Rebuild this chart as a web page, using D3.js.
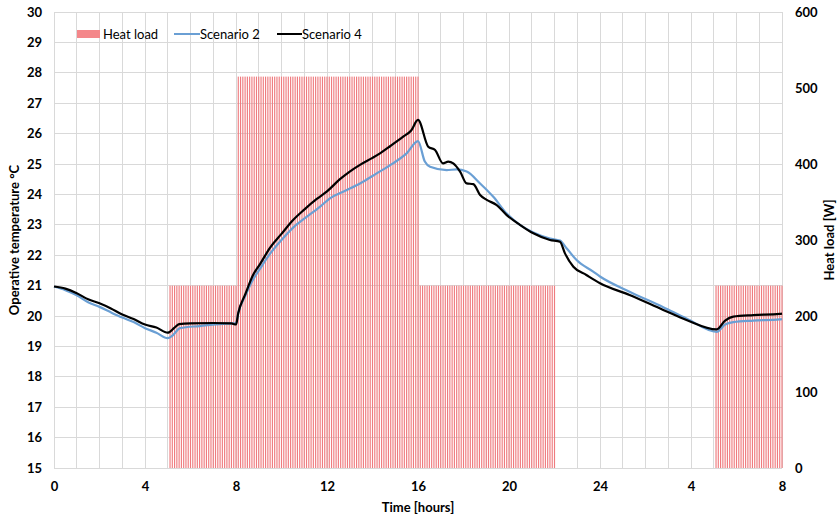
<!DOCTYPE html>
<html lang="en">
<head>
    <meta charset="UTF-8">
    <title>Operative temperature and heat load</title>
    <style>
        body { margin: 0; background: #fff; }
        text { font-family: Lato, "Open Sans", sans-serif; fill: #000; }
    </style>
</head>
<body>

<script src="https://cdn.jsdelivr.net/npm/d3@7/dist/d3.min.js"></script>
<script>

// heat load schedule, one bar every 0.1 h: [first bar, last bar, watts]
const heatBlocks = [
    [5.1, 8.0, 240],
    [8.1, 16.0, 515],
    [16.1, 22.0, 240],
    [29.1, 32.0, 240]
];
const heatStep = 0.1;

// scenario 2 (blue)
const timeS2 = [0, 0.5, 1, 1.5, 2, 2.5, 3, 3.5, 4, 4.5, 5, 5.2, 5.54, 6.4, 7.9, 8,
    8.1, 8.4, 8.75, 9.05, 9.5, 10, 10.5, 11, 11.7, 12.13, 12.8, 13.45, 14.2, 14.9, 15.5, 16,
    16.3, 16.53, 17.26, 17.7, 18.14, 18.73, 19.31, 19.9, 20.48, 21.07, 21.8, 22.24, 22.53, 22.97, 23.7,
    24, 25.3, 26.78, 27.8, 29.13, 29.5, 29.86, 30.74, 31.9, 32];
const tempS2 = [20.97, 20.85, 20.68, 20.45, 20.3, 20.12, 19.95, 19.8, 19.6, 19.45, 19.27, 19.35, 19.6, 19.67, 19.76, 19.75,
    20.1, 20.65, 21.2, 21.55, 22.05, 22.5, 22.9, 23.2, 23.6, 23.87, 24.12, 24.36, 24.7, 25.02, 25.35, 25.75,
    25.08, 24.91, 24.8, 24.82, 24.75, 24.36, 23.92, 23.37, 23.0, 22.75, 22.55, 22.48, 22.23, 21.84, 21.46,
    21.3, 20.8, 20.29, 19.92, 19.48, 19.72, 19.8, 19.85, 19.89, 19.9];

// scenario 4 (black)
const timeS4 = [0, 0.5, 1, 1.5, 2, 2.5, 3, 3.5, 4, 4.5, 5, 5.3, 5.5, 6, 7, 7.8, 8,
    8.1, 8.4, 8.75, 9.05, 9.5, 10, 10.5, 11, 11.55, 12, 12.57, 13, 13.45, 14, 14.33, 14.8, 15.35, 15.7, 16,
    16.45, 16.75, 17.1, 17.33, 17.55, 17.85, 18.14, 18.43, 18.73, 19.02, 19.46, 19.9, 20.48, 21.07, 21.8, 22.24,
    22.46, 22.83, 23.4, 24, 25.3, 26.78, 27.8, 29.13, 29.5, 29.86, 30.74, 31.9, 32];
const tempS4 = [20.97, 20.9, 20.75, 20.55, 20.42, 20.25, 20.05, 19.9, 19.72, 19.62, 19.45, 19.62, 19.73, 19.76, 19.77, 19.76, 19.72,
    20.1, 20.7, 21.35, 21.7, 22.25, 22.7, 23.15, 23.5, 23.85, 24.1, 24.5, 24.75, 24.97, 25.2, 25.35, 25.6, 25.9, 26.1, 26.45,
    25.57, 25.46, 25.02, 25.08, 25.02, 24.75, 24.36, 24.34, 23.98, 23.82, 23.65, 23.32, 23.0, 22.72, 22.5, 22.44,
    22.06, 21.62, 21.35, 21.08, 20.69, 20.2, 19.87, 19.56, 19.85, 19.98, 20.03, 20.07, 20.08];

const xTicks = [0, 4, 8, 12, 16, 20, 24, 28, 32];
const tempTicks = d3.range(15, 31, 1);
const loadTicks = [0, 100, 200, 300, 400, 500, 600];

const width = 839, height = 520;
const margin = {top: 12, right: 57, bottom: 52, left: 54};
const w = width - margin.left - margin.right;
const h = height - margin.top - margin.bottom;

let svg = d3.select('body')
    .append('svg')
    .attr('width', width)
    .attr('height', height);

let g = svg.append('g')
    .attr('transform', `translate(${margin.left},${margin.top})`);

let x = d3.scaleLinear().domain([0, 32]).range([0, w]);
let yT = d3.scaleLinear().domain([15, 30]).range([h, 0]);
let yL = d3.scaleLinear().domain([0, 600]).range([h, 0]);

// grid
g.append('g')
    .selectAll('line')
    .data(d3.range(0, 33, 1))
    .enter()
    .append('line')
    .attr('x1', d => x(d)).attr('x2', d => x(d))
    .attr('y1', 0).attr('y2', h)
    .attr('stroke', '#d9d9d9')
    .attr('shape-rendering', 'crispEdges');

g.append('g')
    .selectAll('line')
    .data(tempTicks)
    .enter()
    .append('line')
    .attr('x1', 0).attr('x2', w)
    .attr('y1', d => yT(d)).attr('y2', d => yT(d))
    .attr('stroke', '#d9d9d9')
    .attr('shape-rendering', 'crispEdges');

// heat load bars
let bars = [];
heatBlocks.forEach(b => {
    let n = Math.round((b[1] - b[0]) / heatStep);
    for (let i = 0; i <= n; ++i) {
        bars.push({t: b[0] + i * heatStep, v: b[2]});
    }
});
const barW = (x(heatStep) - x(0)) * 0.5;

g.append('g')
    .selectAll('rect')
    .data(bars)
    .enter()
    .append('rect')
    .attr('x', d => x(d.t) - barW / 2)
    .attr('y', d => yL(d.v))
    .attr('width', barW)
    .attr('height', d => h - yL(d.v))
    .attr('fill', '#ef7b7f');

// temperature lines
let line = d3.line()
    .x(d => x(d[0]))
    .y(d => yT(d[1]))
    .curve(d3.curveMonotoneX);

g.append('path')
    .datum(timeS2.map((t, i) => [t, tempS2[i]]))
    .attr('d', line)
    .attr('fill', 'none')
    .attr('stroke', '#6a9fd4')
    .attr('stroke-width', 2.2);

g.append('path')
    .datum(timeS4.map((t, i) => [t, tempS4[i]]))
    .attr('d', line)
    .attr('fill', 'none')
    .attr('stroke', '#000')
    .attr('stroke-width', 2.2);

// axes
let xAxis = g.append('g')
    .attr('transform', `translate(0,${h})`)
    .call(d3.axisBottom(x).tickValues(xTicks).tickSize(0).tickPadding(14)
        .tickFormat(d => d % 24 === 0 && d > 0 ? (d === 24 ? '24' : '8') : String(d > 24 ? d - 24 : d)));
xAxis.select('.domain').remove();

let yAxisL = g.append('g')
    .call(d3.axisLeft(yT).tickValues(tempTicks).tickSize(0).tickPadding(12).tickFormat(d3.format('d')));
yAxisL.select('.domain').remove();

let yAxisR = g.append('g')
    .attr('transform', `translate(${w},0)`)
    .call(d3.axisRight(yL).tickValues(loadTicks).tickSize(0).tickPadding(13));
yAxisR.select('.domain').remove();

svg.selectAll('.tick text')
    .style('font-size', '13px')
    .style('font-weight', 'bold')
    .style('font-family', 'Lato, sans-serif')
    .attr('fill', '#000');

// axis titles
svg.append('text')
    .attr('x', margin.left + w / 2)
    .attr('y', 512)
    .attr('text-anchor', 'middle')
    .style('font-size', '13px')
    .style('font-weight', 'bold')
    .text('Time [hours]');

svg.append('text')
    .attr('transform', `translate(19,${margin.top + h / 2}) rotate(-90)`)
    .attr('text-anchor', 'middle')
    .style('font-size', '13px')
    .style('font-weight', 'bold')
    .text('Operative temperature °C');

svg.append('text')
    .attr('transform', `translate(834,${margin.top + h / 2}) rotate(-90)`)
    .attr('text-anchor', 'middle')
    .style('font-size', '13px')
    .style('font-weight', 'bold')
    .text('Heat load [W]');

// legend
let legend = svg.append('g').attr('transform', 'translate(77,34)');
legend.append('rect')
    .attr('x', 0).attr('y', -4).attr('width', 23).attr('height', 8)
    .attr('fill', '#f4878a');
legend.append('text')
    .attr('x', 26).attr('y', 5)
    .style('font-size', '13px')
    .text('Heat load');

legend.append('line')
    .attr('x1', 97).attr('x2', 123).attr('y1', 0).attr('y2', 0)
    .attr('stroke', '#6a9fd4').attr('stroke-width', 2);
legend.append('text')
    .attr('x', 123).attr('y', 5)
    .style('font-size', '13px')
    .text('Scenario 2');

legend.append('line')
    .attr('x1', 200).attr('x2', 225).attr('y1', 0).attr('y2', 0)
    .attr('stroke', '#000').attr('stroke-width', 2);
legend.append('text')
    .attr('x', 225).attr('y', 5)
    .style('font-size', '13px')
    .text('Scenario 4');

</script>

</body>
</html>
